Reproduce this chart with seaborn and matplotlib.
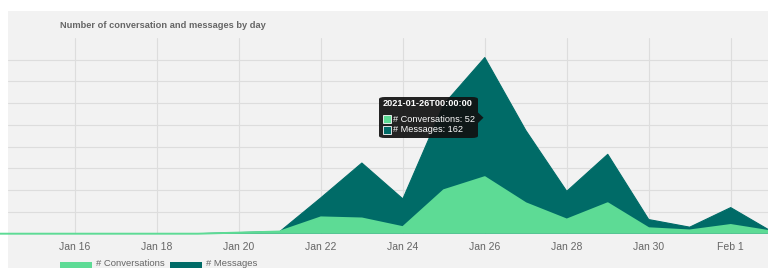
import pandas as pd
import numpy as np
import matplotlib
matplotlib.use("Agg")
import matplotlib.pyplot as plt
import matplotlib.dates as mdates
from matplotlib.patches import Rectangle, FancyBboxPatch, Polygon
import seaborn as sns

# daily counts
days = pd.date_range("2021-01-14", "2021-02-02", freq="D")
conversations = [0, 0, 0, 0, 0, 0, 1, 2, 15, 14, 6, 40, 52, 28, 13, 28, 5, 3, 8, 2]
messages = [0, 0, 0, 0, 0, 0, 1, 2, 33, 65, 32, 119, 162, 95, 39, 73, 13, 6, 24, 2]
tick_days = pd.date_range("2021-01-16", "2021-02-01", freq="2D")
tick_labels = ["Jan 16", "Jan 18", "Jan 20", "Jan 22", "Jan 24", "Jan 26", "Jan 28", "Jan 30", "Feb 1"]

df = pd.DataFrame({"day": days, "Conversations": conversations, "Messages": messages})

light = "#5ddb95"
dark = "#006b67"
bg = "#f2f2f2"

sns.set_style("whitegrid")
plt.rcParams["font.family"] = ["Liberation Sans", "DejaVu Sans"]

W, H = 768, 268
fig = plt.figure(figsize=(W / 100, H / 100), dpi=100)
fig.patch.set_facecolor("white")

def fx(px):
    return px / W

def fy(py):
    return 1 - py / H

# gray panel behind the chart
fig.patches.append(Rectangle((fx(8), 0), 1 - fx(8), fy(11), transform=fig.transFigure,
                             facecolor=bg, edgecolor="none", zorder=-5))

ax = fig.add_axes([fx(8), fy(233.7), 1 - fx(8), (233.7 - 38) / H])
ax.set_facecolor(bg)

ax.fill_between(df["day"], df["Messages"], color=dark, linewidth=0, zorder=2)
ax.fill_between(df["day"], df["Conversations"], color=light, linewidth=0, zorder=3)
sns.lineplot(data=df, x="day", y="Messages", color=dark, linewidth=0.8, ax=ax, zorder=2)
sns.lineplot(data=df, x="day", y="Conversations", color=light, linewidth=1.4, ax=ax,
             zorder=4, clip_on=False)

x0 = pd.Timestamp("2021-01-16") - pd.Timedelta(days=1.635)
x1 = pd.Timestamp("2021-02-01") + pd.Timedelta(days=0.91)
ax.set_xlim(x0, x1)
ax.set_ylim(0, 180)
ax.set_yticks(range(0, 161, 20))
ax.set_yticklabels([])
ax.set_xticks(tick_days)
ax.set_xticklabels(tick_labels, fontsize=7.5, color="#666666")
ax.tick_params(axis="x", length=0, pad=6)
ax.tick_params(axis="y", length=0)
ax.set_xlabel("")
ax.set_ylabel("")
ax.grid(True, color="#dddddd", linewidth=0.8)
for s in ax.spines.values():
    s.set_visible(False)

# title
fig.text(fx(60), fy(25), "Number of conversation and messages by day", fontsize=6.7,
         fontweight="bold", color="#666666", ha="left", va="center")

# tooltip
box = FancyBboxPatch((fx(379), fy(138)), fx(99), (138 - 97) / H,
                     boxstyle="round,pad=0,rounding_size=0.008", transform=fig.transFigure,
                     facecolor="#111111", edgecolor="none", alpha=0.92, zorder=10)
fig.patches.append(box)
fig.patches.append(Polygon([(fx(478), fy(112.5)), (fx(483.5), fy(117.7)), (fx(478), fy(123))],
                           closed=True, transform=fig.transFigure, facecolor="#111111",
                           edgecolor="none", alpha=0.92, zorder=10))
fig.text(fx(383), fy(104), "2021-01-26T00:00:00", fontsize=6.6, fontweight="bold",
         color="white", ha="left", va="center", zorder=11)
for py, col, txt in [(119, light, "# Conversations: 52"), (129.5, dark, "# Messages: 162")]:
    fig.patches.append(Rectangle((fx(383), fy(py + 4)), fx(8), 8 / H, transform=fig.transFigure,
                                 facecolor=col, edgecolor="white", linewidth=0.6, zorder=11))
    fig.text(fx(393), fy(py), txt, fontsize=6.6, color="white", ha="left", va="center", zorder=11)

# legend at the bottom
for lx, col, txt in [(60, light, "# Conversations"), (170, dark, "# Messages")]:
    fig.patches.append(Rectangle((fx(lx), fy(272)), fx(32), 10 / H, transform=fig.transFigure,
                                 facecolor=col, edgecolor="none", zorder=5))
    fig.text(fx(lx + 36), fy(267.5), txt, fontsize=6.8, color="#666666", ha="left", va="bottom")

fig.savefig("out.png", dpi=100, facecolor="white")
